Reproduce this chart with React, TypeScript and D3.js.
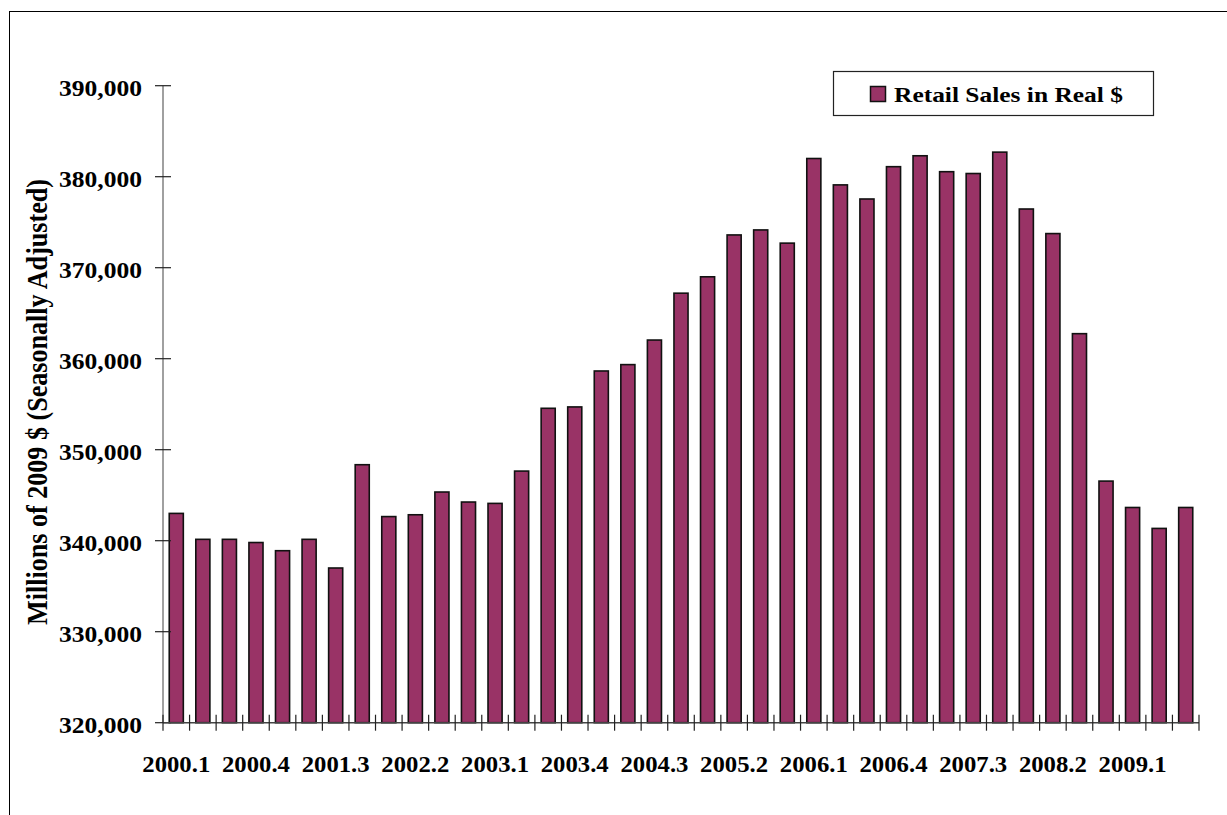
import React from "react";
import * as d3 from "d3";

// Quarterly retail sales, millions of 2009 dollars, seasonally adjusted
const quarters: string[] = [
  "2000.1", "2000.2", "2000.3", "2000.4",
  "2001.1", "2001.2", "2001.3", "2001.4",
  "2002.1", "2002.2", "2002.3", "2002.4",
  "2003.1", "2003.2", "2003.3", "2003.4",
  "2004.1", "2004.2", "2004.3", "2004.4",
  "2005.1", "2005.2", "2005.3", "2005.4",
  "2006.1", "2006.2", "2006.3", "2006.4",
  "2007.1", "2007.2", "2007.3", "2007.4",
  "2008.1", "2008.2", "2008.3", "2008.4",
  "2009.1", "2009.2", "2009.3",
];

const retailSales: number[] = [
  343000, 340150, 340150, 339800,
  338900, 340150, 337000, 348350,
  342650, 342850, 345350, 344250,
  344100, 347650, 354550, 354700,
  358650, 359350, 362050, 367200,
  369000, 373600, 374150, 372700,
  382000, 379100, 377550, 381100,
  382300, 380550, 380350, 382700,
  376450, 373750, 362750, 346550,
  343650, 341350, 343650,
];

const yTicks: number[] = [320000, 330000, 340000, 350000, 360000, 370000, 380000, 390000];
const xTickLabels: string[] = quarters.filter((_, i) => i % 3 === 0);

const seriesName = "Retail Sales in Real $";
const yTitle = "Millions of 2009 $ (Seasonally Adjusted)";

const W = 1227;
const H = 815;
const plot = { left: 163, right: 1199, top: 85.7, bottom: 722.7 };
const FILL = "#993366";
const FONT = "'Liberation Serif', 'Times New Roman', serif";

export default function App() {
  const x = d3
    .scaleBand<string>()
    .domain(quarters)
    .range([plot.left, plot.right])
    .paddingInner(0.47)
    .paddingOuter(0.235);
  const y = d3.scaleLinear().domain([320000, 390000]).range([plot.bottom, plot.top]);
  const step = (plot.right - plot.left) / quarters.length;
  const fmt = d3.format(",");
  const boundaries = d3.range(quarters.length + 1).map((i) => plot.left + i * step);

  return (
    <svg
      width={W}
      height={H}
      style={{ position: "fixed", left: 0, top: 0, background: "#fff" }}
      fontFamily={FONT}
      fontWeight="bold"
    >
      <rect x={0} y={0} width={W} height={H} fill="#fff" />
      {/* chart frame */}
      <rect x={9.5} y={11.5} width={W + 20} height={H + 20} fill="none" stroke="#000" strokeWidth={1} />

      {/* bars */}
      {quarters.map((q, i) => (
        <rect
          key={q}
          x={x(q)!}
          y={y(retailSales[i])}
          width={x.bandwidth()}
          height={plot.bottom - y(retailSales[i])}
          fill={FILL}
          stroke="#111"
          strokeWidth={1.6}
        />
      ))}

      {/* y axis */}
      <line x1={plot.left} x2={plot.left} y1={plot.top} y2={plot.bottom} stroke="#808080" strokeWidth={1.5} />
      {yTicks.map((t) => (
        <g key={t}>
          <line x1={plot.left - 8} x2={plot.left + 8} y1={y(t)} y2={y(t)} stroke="#222" strokeWidth={1.2} />
          <text
            x={142}
            y={y(t) + 10}
            textAnchor="end"
            fontSize={23}
            textLength={83}
            lengthAdjust="spacingAndGlyphs"
            fill="#000"
          >
            {fmt(t)}
          </text>
        </g>
      ))}

      {/* x axis */}
      <line x1={plot.left} x2={plot.right} y1={plot.bottom} y2={plot.bottom} stroke="#444" strokeWidth={1.5} />
      {boundaries.map((bx, i) => (
        <line key={i} x1={bx} x2={bx} y1={plot.bottom - 8} y2={plot.bottom + 8} stroke="#222" strokeWidth={1.2} />
      ))}
      {xTickLabels.map((q) => (
        <text
          key={q}
          x={x(q)! + x.bandwidth() / 2}
          y={771.7}
          textAnchor="middle"
          fontSize={23}
          textLength={68}
          lengthAdjust="spacingAndGlyphs"
          fill="#000"
        >
          {q}
        </text>
      ))}

      {/* y axis title */}
      <text
        transform={`translate(47,402) rotate(-90)`}
        textAnchor="middle"
        fontSize={30}
        textLength={446}
        lengthAdjust="spacingAndGlyphs"
        fill="#000"
      >
        {yTitle}
      </text>

      {/* legend */}
      <rect x={833.5} y={71.5} width={320} height={44} fill="#fff" stroke="#222" strokeWidth={1.2} />
      <rect x={870.5} y={86.5} width={15} height={15} fill={FILL} stroke="#111" strokeWidth={1.5} />
      <text x={894} y={101.5} fontSize={22} textLength={229} lengthAdjust="spacingAndGlyphs" fill="#000">
        {seriesName}
      </text>
    </svg>
  );
}
